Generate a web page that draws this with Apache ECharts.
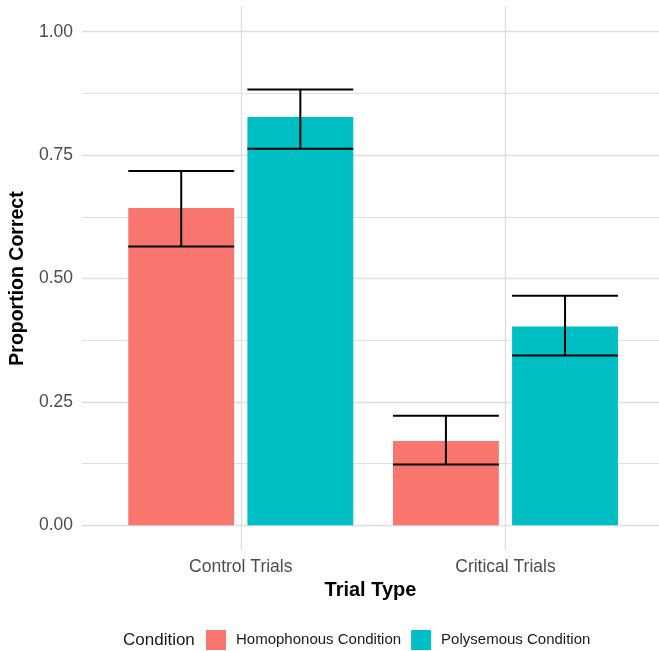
<!DOCTYPE html>
<html>
<head>
<meta charset="utf-8">
<script src="https://cdn.jsdelivr.net/npm/echarts@6/dist/echarts.min.js"></script>
<style>
html,body{margin:0;padding:0;background:#fff;}
#chart{width:659px;height:651px;}
</style>
</head>
<body>
<div id="chart"></div>
<script>
const categories = ['Control Trials', 'Critical Trials'];
const seriesNames = ['Homophonous Condition', 'Polysemous Condition'];
const homMean = [0.643, 0.171];
const homLower = [0.565, 0.123];
const homUpper = [0.718, 0.222];
const polyMean = [0.827, 0.403];
const polyLower = [0.763, 0.344];
const polyUpper = [0.883, 0.465];
const yMajorTicks = [0, 0.25, 0.5, 0.75, 1.0];
const yMinorTicks = [0.125, 0.375, 0.625, 0.875];
const colors = ['#F8766D', '#00BFC4'];

const FONT = "'Liberation Sans', Arial, Helvetica, sans-serif";
const barWidth = 0.4;
const dodge = 0.225;

function makeData(mean, lo, hi) {
  return categories.map((c, j) => [j + 1, mean[j], lo[j], hi[j]]);
}

function makeRender(offset, color) {
  return function (params, api) {
    const xc = api.value(0) + offset;
    const p0 = api.coord([xc - barWidth / 2, 0]);
    const p1 = api.coord([xc + barWidth / 2, api.value(1)]);
    const lo = api.coord([xc - barWidth / 2, api.value(2)]);
    const hi = api.coord([xc + barWidth / 2, api.value(3)]);
    const mid = api.coord([xc, 0])[0];
    const ls = { stroke: '#000', lineWidth: 2 };
    return {
      type: 'group',
      children: [
        { type: 'rect', shape: { x: p0[0], y: p1[1], width: p1[0] - p0[0], height: p0[1] - p1[1] }, style: { fill: color } },
        { type: 'line', shape: { x1: lo[0], y1: lo[1], x2: hi[0], y2: lo[1] }, style: ls },
        { type: 'line', shape: { x1: lo[0], y1: hi[1], x2: hi[0], y2: hi[1] }, style: ls },
        { type: 'line', shape: { x1: mid, y1: lo[1], x2: mid, y2: hi[1] }, style: ls }
      ]
    };
  };
}

const chart = echarts.init(document.getElementById('chart'), null, { renderer: 'canvas' });
const gridLine = { show: true, lineStyle: { color: '#dedede', width: 1.4 } };
chart.setOption({
  animation: false,
  backgroundColor: '#fff',
  textStyle: { fontFamily: FONT },
  grid: { left: 81, top: 7, right: 0, height: 543, containLabel: false },
  xAxis: {
    type: 'value', min: 0.4, max: 2.58,
    axisLine: { show: false },
    axisTick: { show: false, customValues: [1, 2] },
    axisLabel: { customValues: [1, 2], formatter: v => categories[Math.round(v) - 1], fontSize: 17.5, color: '#4d4d4d', margin: 8, fontFamily: FONT },
    splitLine: gridLine,
    name: 'Trial Type', nameLocation: 'middle', nameGap: 30,
    nameTextStyle: { fontSize: 20, fontWeight: 'bold', color: '#000', fontFamily: FONT }
  },
  yAxis: [{
    type: 'value', min: -0.05, max: 1.05,
    axisLine: { show: false },
    axisTick: { show: false, customValues: yMajorTicks },
    axisLabel: { customValues: yMajorTicks, formatter: v => v.toFixed(2), fontSize: 17.5, color: '#4d4d4d', margin: 9, fontFamily: FONT },
    splitLine: gridLine,
    name: 'Proportion Correct', nameLocation: 'middle', nameGap: 51,
    nameTextStyle: { fontSize: 19.5, fontWeight: 'bold', color: '#000', fontFamily: FONT }
  }, {
    type: 'value', min: -0.05, max: 1.05, position: 'left',
    axisLine: { show: false },
    axisTick: { show: false, customValues: yMinorTicks },
    axisLabel: { show: false },
    splitLine: { show: true, lineStyle: { color: '#e0e0e0', width: 1.2 } }
  }],
  legend: {
    data: seriesNames, icon: 'rect', orient: 'horizontal',
    left: 201, top: 625, itemWidth: 20, itemHeight: 20, itemGap: 10,
    textStyle: { fontSize: 15, color: '#1a1a1a', padding: [0, 0, 0, 5], fontFamily: FONT }
  },
  graphic: [{
    type: 'text', left: 123, top: 632,
    style: { text: 'Condition', fontSize: 17, fill: '#1a1a1a', fontFamily: FONT }
  }],
  series: [
    { name: seriesNames[0], type: 'custom', color: colors[0], itemStyle: { color: colors[0] },
      renderItem: makeRender(-dodge, colors[0]), data: makeData(homMean, homLower, homUpper), encode: { x: 0, y: 1 } },
    { name: seriesNames[1], type: 'custom', color: colors[1], itemStyle: { color: colors[1] },
      renderItem: makeRender(dodge, colors[1]), data: makeData(polyMean, polyLower, polyUpper), encode: { x: 0, y: 1 } }
  ]
});
</script>
</body>
</html>
